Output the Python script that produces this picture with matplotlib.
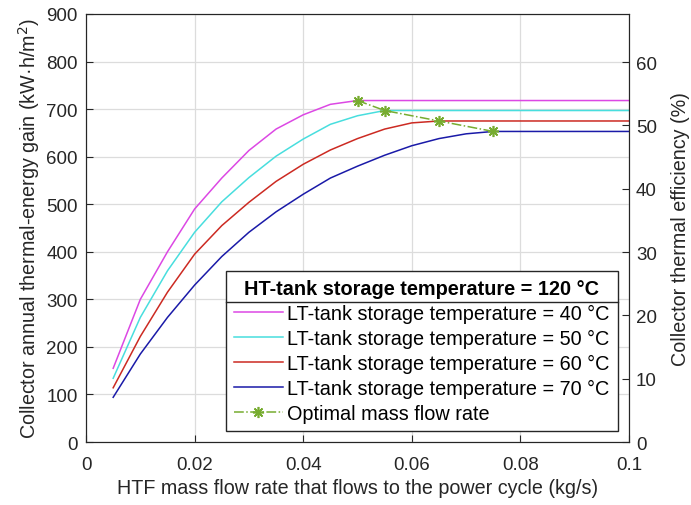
import matplotlib
matplotlib.use("Agg")
from matplotlib import pyplot as plt
from matplotlib.lines import Line2D

plt.rcParams['font.family'] = ['Liberation Sans', 'DejaVu Sans']
plt.rcParams['font.size'] = 13.5

# 数据
flow = [0.005, 0.01, 0.015, 0.02, 0.025, 0.03, 0.035, 0.04, 0.045, 0.05,
        0.055, 0.06, 0.065, 0.07, 0.075, 0.08, 0.085, 0.09, 0.095, 0.1]
gain_40 = [155, 300, 400, 490, 555, 613, 658, 688, 710, 718,
           718, 718, 718, 718, 718, 718, 718, 718, 718, 718]
gain_50 = [134, 262, 360, 441, 505, 556, 601, 637, 668, 686,
           697, 697, 697, 697, 697, 697, 697, 697, 697, 697]
gain_60 = [114, 222, 315, 395, 455, 504, 548, 584, 614, 638,
           658, 671, 675, 675, 675, 675, 675, 675, 675, 675]
gain_70 = [94, 185, 262, 330, 390, 441, 484, 521, 555, 580,
           603, 623, 638, 648, 653, 653, 653, 653, 653, 653]
opt_flow = [0.05, 0.055, 0.065, 0.075]
opt_gain = [718, 697, 675, 653]

labels = ['LT-tank storage temperature = 40 °C',
          'LT-tank storage temperature = 50 °C',
          'LT-tank storage temperature = 60 °C',
          'LT-tank storage temperature = 70 °C']
colors = ['#DC48E4', '#48DEDE', '#CC2A22', '#1A1AA8']
dark = '#262626'

fig = plt.figure(figsize=(6.91, 5.06), dpi=100)
ax = fig.add_axes([0.1245, 0.1245, 0.7858, 0.8459])

for g, lab, c in zip([gain_40, gain_50, gain_60, gain_70], labels, colors):
    ax.plot(flow, g, color=c, lw=1.1, label=lab)
ax.plot(opt_flow, opt_gain, color='#77AC30', lw=1.1, ls='-.', marker=(8, 2, 0),
        markersize=8, markeredgewidth=1.2, label='Optimal mass flow rate')

ax.set_xlim(0, 0.1)
ax.set_ylim(0, 900)
ax.set_xticks([0, 0.02, 0.04, 0.06, 0.08, 0.1])
ax.set_xticklabels(['0', '0.02', '0.04', '0.06', '0.08', '0.1'])
ax.set_yticks(range(0, 901, 100))
ax.grid(True, color='#dcdcdc', lw=0.9)
ax.set_axisbelow(True)
ax.tick_params(direction='in', length=5, colors=dark, labelcolor=dark)
ax.tick_params(axis='x', pad=10)
ax.tick_params(axis='y', pad=6)
ax.set_xlabel('HTF mass flow rate that flows to the power cycle (kg/s)',
              color=dark, fontsize=14.2, labelpad=4)
ax.set_ylabel('Collector annual thermal-energy gain (kW·h/m$^2$)',
              color=dark, fontsize=14.2, labelpad=3)

ax2 = ax.twinx()
ax2.set_ylim(0, 67.6)
ax2.set_yticks(range(0, 61, 10))
ax2.tick_params(direction='in', length=5, colors=dark, labelcolor=dark, pad=5)
ax2.set_ylabel('Collector thermal efficiency (%)', color=dark, fontsize=14.2, labelpad=10)
for a in (ax, ax2):
    for s in a.spines.values():
        s.set_color(dark)

leg = ax.legend(loc='lower right', bbox_to_anchor=(0.979, 0.026), borderaxespad=0,
                title='HT-tank storage temperature = 120 °C', fancybox=False,
                edgecolor=dark, framealpha=1, handlelength=2.5,
                handletextpad=0.2, labelspacing=0.3, borderpad=0.4, fontsize=14.3,
                title_fontsize=14.3)
leg.get_title().set_fontweight('bold')
leg.get_frame().set_linewidth(1.0)

# 标题下方分隔线
fig.canvas.draw()
fb = leg.get_frame().get_window_extent()
tb = leg.get_title().get_window_extent()
inv = fig.transFigure.inverted()
y = (tb.y0 - 4)
(x0, yy), (x1, _) = inv.transform([(fb.x0, y), (fb.x1, y)])
fig.add_artist(Line2D([x0, x1], [yy, yy], transform=fig.transFigure, color=dark, lw=1.0))

plt.savefig('out.png', dpi=100)
